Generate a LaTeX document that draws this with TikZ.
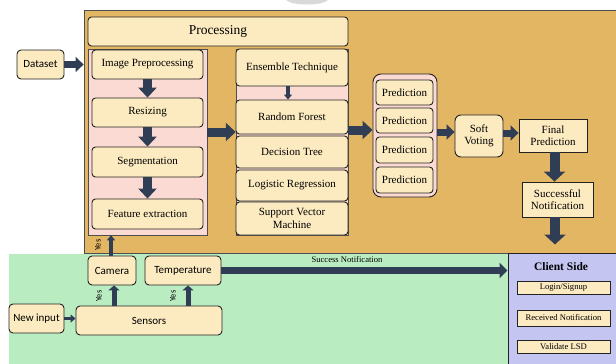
\documentclass[tikz,border=0pt]{standalone}
\usepackage{fontspec}
\setmainfont{Liberation Serif}
\newfontfamily\sansf{Carlito}
\usetikzlibrary{arrows.meta,calc}
\definecolor{bgor}{HTML}{E3B664}
\definecolor{cream}{HTML}{FCEBC0}
\definecolor{pinkb}{HTML}{FBDAD4}
\definecolor{bggreen}{HTML}{BAECC2}
\definecolor{lav}{HTML}{C4C6F1}
\definecolor{navy}{HTML}{2F3D55}
\definecolor{edge}{HTML}{222222}
\begin{document}
\begin{tikzpicture}[x=1pt,y=-1pt,
  box/.style={draw=edge, line width=0.9pt, fill=cream, rounded corners=3.5pt, align=center, inner sep=1pt, font=\fontsize{11}{12.5}\selectfont},
  sbox/.style={box, font=\sansf\fontsize{11}{12.5}\selectfont},
  sqbox/.style={box, rounded corners=0pt},
  smallbox/.style={draw=edge, line width=0.9pt, fill=cream, inner sep=0pt, font=\fontsize{8.6}{9}\selectfont},
  panel/.style={draw=edge!80, line width=0.5pt, fill=pinkb, inner sep=0pt},
  bigarr/.style={draw=navy, line width=10pt, -{Triangle[width=21pt,length=10pt]}},
  midarr/.style={draw=navy, line width=9pt, -{Triangle[width=18pt,length=10pt]}},
  arr/.style={draw=navy, line width=7pt, -{Triangle[width=15pt,length=8pt]}},
  thinarr/.style={draw=navy, line width=5pt, -{Triangle[width=11pt,length=5pt]}},
  tinyarr/.style={draw=navy, line width=3.5pt, -{Triangle[width=8pt,length=5pt]}},
  yeslab/.style={rotate=90, font=\sansf\fontsize{8.5}{9}\selectfont, inner sep=0pt}]
\useasboundingbox (0,0) rectangle (616,364);
% faint watermark at top
\fill[gray!30] (286,0) .. controls (292,6) and (322,6) .. (328,0) -- cycle;
% background areas
\node[draw=edge!80, line width=0.8pt, fill=bgor, minimum width=536pt, minimum height=243pt, inner sep=0pt] (procarea) at (352,131.5) {};
\fill[bggreen] (9,253.5) rectangle (508,364);
\node[draw=edge, line width=1pt, fill=lav, minimum width=112pt, minimum height=115pt, inner sep=0pt] (client) at (564,310.5) {};
% processing header
\node[box, minimum width=260pt, minimum height=29pt, font=\fontsize{13.5}{15}\selectfont] (proc) at (218,31.5) {Processing};
% preprocessing panel
\node[panel, minimum width=119pt, minimum height=186pt] (prep) at (147.5,142) {};
\node[box, minimum width=111pt, minimum height=29pt] (ip) at (147.5,64.5) {Image Preprocessing};
\node[box, minimum width=111pt, minimum height=29pt] (rs) at (147.5,112.5) {Resizing};
\node[box, minimum width=111pt, minimum height=30pt] (sg) at (147.5,162) {Segmentation};
\node[box, minimum width=111pt, minimum height=30pt] (fe) at (147.5,214) {Feature extraction};
% model column
\node[panel, minimum width=112pt, minimum height=186pt] (mlcol) at (292,142) {};
\node[box, minimum width=112pt, minimum height=37pt] (ens) at (292,67.5) {Ensemble Technique};
\node[box, minimum width=112pt, minimum height=34pt] (rf) at (292,117) {Random Forest};
\node[box, minimum width=112pt, minimum height=32pt] (dt) at (292,152) {Decision Tree};
\node[box, minimum width=112pt, minimum height=31pt] (lr) at (292,185.5) {Logistic Regression};
\node[box, minimum width=112pt, minimum height=33pt] (svm) at (292,218.5) {Support Vector\\Machine};
% predictions
\node[panel, draw=edge, line width=0.9pt, rounded corners=8pt, minimum width=64pt, minimum height=123pt] (predg) at (405,135.5) {};
\node[box, minimum width=57pt, minimum height=25pt] (p1) at (404.5,92.5) {Prediction};
\node[box, minimum width=57pt, minimum height=25pt] (p2) at (404.5,120.5) {Prediction};
\node[box, minimum width=57pt, minimum height=26pt] (p3) at (404.5,150) {Prediction};
\node[box, minimum width=57pt, minimum height=26pt] (p4) at (404.5,180) {Prediction};
\node[box, rounded corners=6pt, minimum width=48pt, minimum height=42pt] (soft) at (479,136) {Soft\\Voting};
\node[sbox, sqbox, minimum width=68pt, minimum height=33pt] (fin) at (553,135.5) {Final\\Prediction};
\node[sbox, sqbox, minimum width=71pt, minimum height=35pt] (succ) at (557.5,199.5) {Successful\\Notification};
% inputs
\node[sbox, rounded corners=4pt, minimum width=47pt, minimum height=29pt] (ds) at (40.5,64.5) {Dataset};
\node[sbox, rounded corners=4pt, minimum width=48pt, minimum height=29pt] (cam) at (112,270.5) {Camera};
\node[sbox, rounded corners=4pt, minimum width=76pt, minimum height=29pt] (temp) at (183,270.5) {Temperature};
\node[sbox, rounded corners=4pt, minimum width=146pt, minimum height=29pt] (sens) at (149,320.5) {Sensors};
\node[sbox, rounded corners=4pt, minimum width=55pt, minimum height=29pt] (newin) at (36.5,318.5) {New input};
% client side
\node[font=\bfseries\fontsize{11.5}{13}\selectfont] (cstitle) at (561,267) {Client Side};
\node[smallbox, minimum width=93pt, minimum height=13pt] (login) at (563.5,287.5) {Login/Signup};
\node[smallbox, minimum width=93pt, minimum height=16pt] (recv) at (563.5,318) {Received Notification};
\node[smallbox, minimum width=93pt, minimum height=13pt] (valid) at (563.5,346.5) {Validate LSD};
% coordinates for connectors
\coordinate (prepout) at ([yshift=10pt]prep.east);
\coordinate (mlout) at ([yshift=12pt]mlcol.east);
\coordinate (predout) at ([yshift=3.5pt]predg.east);
\coordinate (softout) at ([yshift=3pt]soft.east);
\coordinate (succend) at ([yshift=8pt]client.north -| succ.south);
\coordinate (ensx) at ([xshift=-4pt]ens.south);
% arrows
\draw[arr] (ds.east) -- (ds.east -| procarea.west);
\draw[midarr] (ip.south) -- (rs.north);
\draw[midarr] (rs.south) -- (sg.north);
\draw[midarr] (sg.south) -- (fe.north);
\draw[midarr] (prepout) -- (prepout -| mlcol.west);
\draw[tinyarr] (ensx) -- (ensx |- rf.north);
\draw[midarr] (mlout) -- (mlout -| predg.west);
\draw[arr] (predout) -- (predout -| soft.west);
\draw[arr] (softout) -- (softout -| fin.west);
\draw[bigarr] ([xshift=1.5pt]fin.south) -- ([xshift=1.5pt]fin.south |- succ.north);
\draw[bigarr] ([xshift=-2.5pt]succ.south) -- ([xshift=-2.5pt]succend);
\draw[tinyarr] (newin.east) -- (newin.east -| sens.west);
\coordinate (s1) at (114,0);
\coordinate (s2) at (188,0);
\draw[thinarr] (s1 |- sens.north) -- (s1 |- cam.south);
\draw[thinarr] (s2 |- sens.north) -- (s2 |- temp.south);
\coordinate (c1) at (111,0);
\draw[tinyarr] (c1 |- cam.north) -- (c1 |- prep.south);
\draw[arr] (temp.east) -- (temp.east -| client.west);
% labels
\node[yeslab] (y1) at (99,296) {Yes};
\node[yeslab] (y2) at (173,296) {Yes};
\node[yeslab] (y3) at (98,245) {Yes};
\node[font=\fontsize{8.6}{9}\selectfont, inner sep=0pt] (sn) at (347,260) {Success Notification};
\end{tikzpicture}
\end{document}
